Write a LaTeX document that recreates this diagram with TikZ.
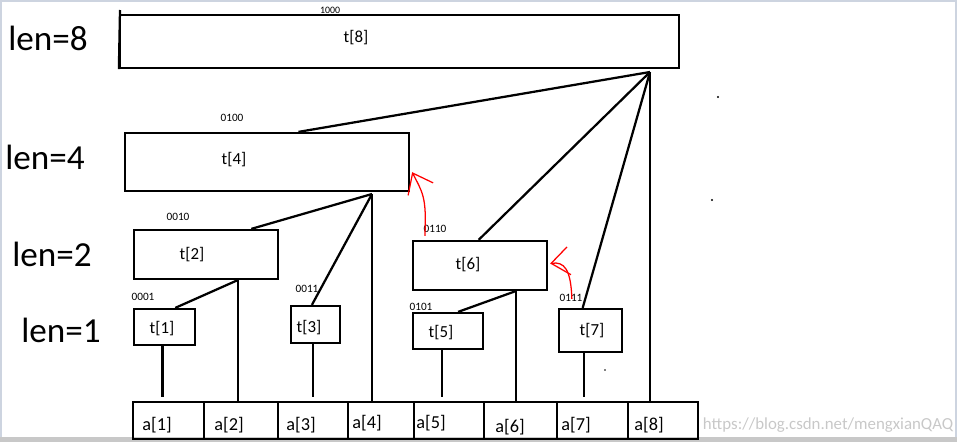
\documentclass[tikz,border=0pt]{standalone}
\usepackage{fontspec}
\setmainfont{Carlito}
\usepackage{tikz}
\usetikzlibrary{arrows.meta, positioning, calc, fit}

\definecolor{framegray}{RGB}{205,212,224}
\definecolor{markgray}{RGB}{200,200,200}

\tikzset{
  box/.style={draw, line width=1.6pt, inner sep=0pt},
  branch/.style={line width=1.6pt},
  lenlabel/.style={font=\fontsize{25}{25}\selectfont},
  tlabel/.style={font=\fontsize{12}{12}\selectfont},
  alabel/.style={font=\fontsize{13}{13}\selectfont},
  code/.style={font=\fontsize{8}{8}\selectfont},
  hand/.style={red, line width=0.9pt, -{Straight Barb[length=4.5mm, width=7mm]}}
}

\begin{document}
\begin{tikzpicture}[x=0.025cm, y=-0.025cm]
  \useasboundingbox (0,0) rectangle (957,442);
  % Window frame
  \draw[framegray, line width=1.5pt] (1,442) -- (1,1) -- (956,1) -- (956,442);
  \fill[markgray] (0,437) rectangle (957,442);

  % Level labels
  \node[lenlabel] (len8) at (48,38) {len=8};
  \node[lenlabel] (len4) at (45,157) {len=4};
  \node[lenlabel] (len2) at (52,254) {len=2};
  \node[lenlabel] (len1) at (61,330) {len=1};

  % Tree boxes
  \node[box, fit={(120,15) (679,68)}] (t8) {};
  \node[box, fit={(125,133) (409,191)}] (t4) {};
  \node[box, fit={(134,230) (278,279)}] (t2) {};
  \node[box, fit={(134,309) (195,345)}] (t1) {};
  \node[box, fit={(291,306) (340,343)}] (t3) {};
  \node[box, fit={(413,241) (547,290)}] (t6) {};
  \node[box, fit={(413,313) (483,349)}] (t5) {};
  \node[box, fit={(559,309) (622,352)}] (t7) {};
  \draw[branch] (t8.south west) -- (120,10);

  % Box texts
  \foreach \n/\x/\y in {8/356/38, 4/234/160, 2/192/255, 1/162/329, 3/309/328, 6/468/265, 5/441/333, 7/592/331}
    \node[tlabel] (t\n txt) at (\x,\y) {t[\n]};

  % Binary codes
  \node[code, font=\fontsize{7}{7}\selectfont] (c8) at (330,10) {1000};
  \foreach \n/\x/\y/\c in {4/232/118/0100, 2/178/217/0010, 1/143/297/0001, 3/307/289/0011, 6/435/229/0110, 5/421/307/0101, 7/571/298/0111}
    \node[code] (c\n) at (\x,\y) {\c};

  % Array a
  \node[box, fit={(133,402) (698,439)}] (arr) {};
  \foreach \x in {204,278,348,414,484,557,628}
    \draw[branch] (\x,402) -- (\x,439);
  \foreach \n/\x/\y in {1/157/425, 2/229/425, 3/301/425, 4/367/423, 5/431/423, 6/510/427, 7/576/425, 8/649/425}
    \node[alabel] (a\n) at (\x,\y) {a[\n]};

  % Junctions under the boxes
  \coordinate (j8) at (650,72);
  \coordinate (j4) at (372,194);
  \coordinate (j2) at (238,280);
  \coordinate (j6) at (516,291);

  % Branches
  \draw[branch] (j8) -- ($(t4.north west)!0.61!(t4.north east)$);
  \draw[branch] (j8) -- ($(t6.north west)!0.49!(t6.north east)$);
  \draw[branch] (j8) -- ($(t7.north west)!0.38!(t7.north east)$);
  \draw[branch] (j8) -- (j8 |- arr.north);
  \draw[branch] (j4) -- ($(t2.north west)!0.81!(t2.north east)$);
  \draw[branch] (j4) -- ($(t3.north west)!0.43!(t3.north east)$);
  \draw[branch] (j4) -- (j4 |- arr.north);
  \draw[branch] (j2) -- ($(t1.north west)!0.67!(t1.north east)$);
  \draw[branch] (j2) -- (j2 |- arr.north);
  \draw[branch] (j6) -- ($(t5.north west)!0.64!(t5.north east)$);
  \draw[branch] (j6) -- (j6 |- arr.north);

  % Leaf stems
  \foreach \n/\f in {1/0.47, 3/0.45, 5/0.42, 7/0.40} {
    \coordinate (s\n) at ($(t\n.south west)!\f!(t\n.south east)$);
    \coordinate (e\n) at (s\n |- arr.north);
    \draw[branch] (s\n) -- ($(e\n)+(0,-4)$);
  }

  % Red arrows
  \draw[hand] ($(t6.north west)+(13,-4)$) .. controls +(2,-40) and +(10,20) .. ($(t4.south east)+(2,-20)$);
  \draw[hand] ($(t7.north west)+(14,-9)$) .. controls +(-1,-30) and +(14,-2) .. ($(t6.east)+(2,-2)$);

  % Specks
  \fill (718,97) circle (0.8pt);
  \fill (712,200) circle (0.8pt);
  \fill (605,370) circle (0.6pt);

  % Watermark
  \node[anchor=west, markgray, font=\fontsize{12}{12}\selectfont] (mark) at (698,425) {https://blog.csdn.net/mengxianQAQ};
\end{tikzpicture}
\end{document}
